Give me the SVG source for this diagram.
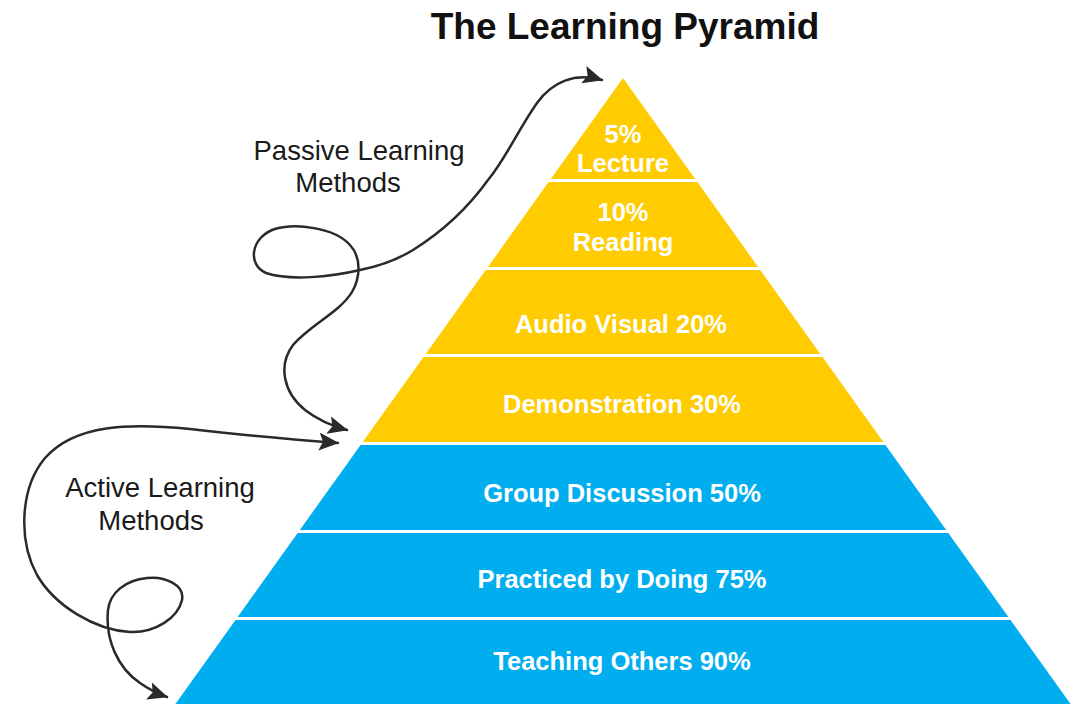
<svg xmlns="http://www.w3.org/2000/svg" width="1081" height="704" viewBox="0 0 1081 704">
<defs>
<style>
.title{font-family:"Liberation Sans",Arial,sans-serif;font-weight:bold;font-size:37px;fill:#111;text-anchor:middle}
.lbl{font-family:"Liberation Sans",Arial,sans-serif;font-weight:bold;font-size:25.5px;fill:#fff;text-anchor:middle}
.side{font-family:"Liberation Sans",Arial,sans-serif;font-size:27.5px;fill:#1a1a1a;text-anchor:middle}
.y{fill:#FECC00}
.b{fill:#00AEEF}
.conn{fill:none;stroke:#2a2a2a;stroke-width:2.5;stroke-linecap:round}
</style>
<marker id="ah" markerUnits="userSpaceOnUse" markerWidth="22" markerHeight="20" refX="19" refY="9" orient="auto-start-reverse" viewBox="0 0 22 20">
<path d="M0,0 L20,9 L0,18 L4,9 Z" fill="#2a2a2a"/>
</marker>
</defs>
<rect width="1081" height="704" fill="#fff"/>
<text class="title" x="625" y="39">The Learning Pyramid</text>

<g id="lecture"><polygon class="y" points="623,78 695.2,179 550.8,179"/>
<text class="lbl" x="623" y="143">5%</text><text class="lbl" x="623" y="172">Lecture</text></g>
<g id="reading"><polygon class="y" points="548.6,182 697.4,182 758.1,267 487.9,267"/>
<text class="lbl" x="623" y="221">10%</text><text class="lbl" x="623" y="251">Reading</text></g>
<g id="audio-visual"><polygon class="y" points="485.7,270 760.3,270 820.3,354 425.7,354"/>
<text class="lbl" x="621" y="333">Audio Visual 20%</text></g>
<g id="demonstration"><polygon class="y" points="423.5,357 822.5,357 883.3,442 362.7,442"/>
<text class="lbl" x="622" y="413">Demonstration 30%</text></g>
<g id="group-discussion"><polygon class="b" points="360.6,445 885.4,445 946.2,530 299.8,530"/>
<text class="lbl" x="622" y="502">Group Discussion 50%</text></g>
<g id="practiced"><polygon class="b" points="297.7,533 948.3,533 1008.4,617 237.6,617"/>
<text class="lbl" x="622" y="588">Practiced by Doing 75%</text></g>
<g id="teaching"><polygon class="b" points="235.5,620 1010.5,620 1070.6,704 175.4,704"/>
<text class="lbl" x="622" y="670">Teaching Others 90%</text></g>

<g id="passive-label"><text class="side" x="359" y="160">Passive Learning</text><text class="side" x="348" y="192">Methods</text></g>
<g id="active-label"><text class="side" x="160" y="497">Active Learning</text><text class="side" x="151" y="530">Methods</text></g>

<g id="connectors">
<path class="conn" marker-start="url(#ah)" marker-end="url(#ah)" d="M602,80 C575,72 552,82 537,103 C518,130 505,160 488,180 C470,205 445,230 413,250 C395,261 380,266 360,270 C330,277 290,281 266,273 C248,265 250,240 272,230 C295,222 335,228 350,245 C362,258 360,278 352,292 C340,312 310,325 293,345 C278,365 283,392 305,410 C318,420 332,426 347,430"/>
<path class="conn" marker-start="url(#ah)" marker-end="url(#ah)" d="M338,443 C300,440 250,436 190,429 C130,423 75,424 45,458 C20,488 18,540 37,575 C55,606 95,630 130,632 C155,633 178,618 182,600 C185,585 165,576 147,578 C125,580 110,593 108,610 C105,640 118,668 140,683 C150,690 158,694 167,697"/>
</g>
</svg>
